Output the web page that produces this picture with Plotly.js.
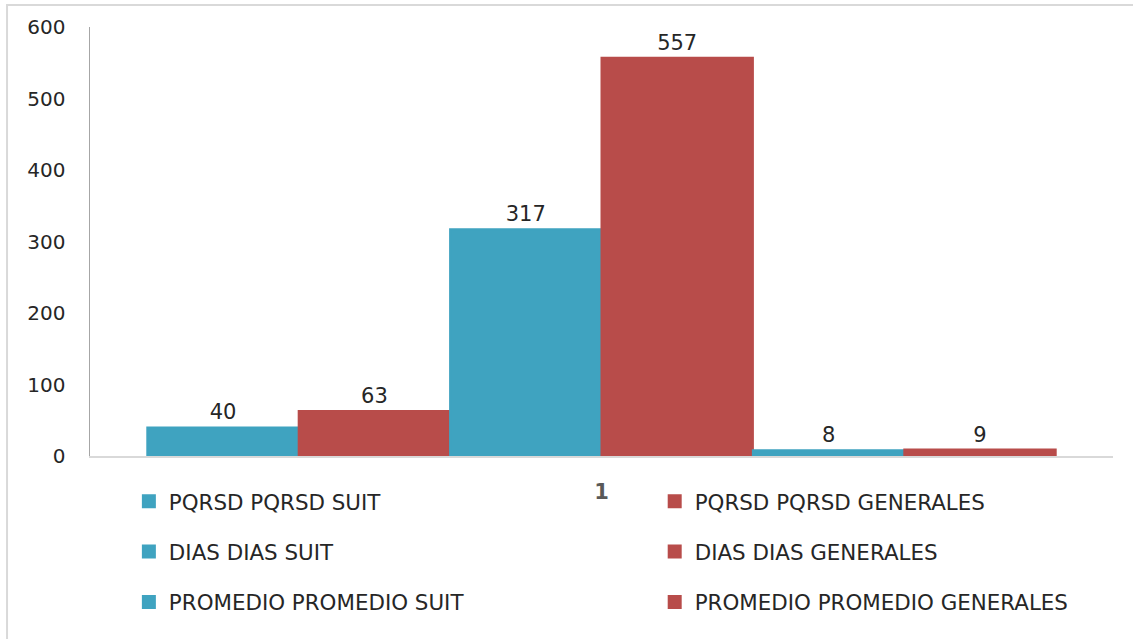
<!DOCTYPE html>
<html>
<head>
<meta charset="utf-8">
<script src="https://cdn.plot.ly/plotly-3.0.1.min.js"></script>
<style>html,body{margin:0;padding:0;background:#fff;}#chart{width:1133px;height:639px;}</style>
</head>
<body>
<div id="chart"></div>
<script>
const categories = ["1"];
const seriesNames = [
  "PQRSD PQRSD SUIT", "PQRSD PQRSD GENERALES",
  "DIAS DIAS SUIT", "DIAS DIAS GENERALES",
  "PROMEDIO PROMEDIO SUIT", "PROMEDIO PROMEDIO GENERALES"
];
const pqrsdSuit = [40];
const pqrsdGenerales = [63];
const diasSuit = [317];
const diasGenerales = [557];
const promedioSuit = [8];
const promedioGenerales = [9];
const yTicks = [0, 100, 200, 300, 400, 500, 600];

const seriesValues = [pqrsdSuit, pqrsdGenerales, diasSuit, diasGenerales, promedioSuit, promedioGenerales];
const teal = "#3FA3C0", red = "#B84C4A";
const FONT = "DejaVu Sans, sans-serif";

const traces = seriesValues.map((vals, i) => {
  const c = i % 2 === 0 ? teal : red;
  return {
    type: "bar",
    name: seriesNames[i],
    x: categories,
    y: vals,
    marker: {color: c, line: {width: 2, color: c}},
    text: vals.map(String),
    textposition: "outside",
    textfont: {family: FONT, size: 21, color: "#262626"},
    cliponaxis: false,
    legend: i % 2 === 0 ? "legend" : "legend2",
    legendgroup: "g" + i,
    hoverinfo: "none"
  };
});

const legendCommon = {
  orientation: "v",
  yanchor: "top",
  xanchor: "left",
  y: -0.058,
  bgcolor: "rgba(0,0,0,0)",
  borderwidth: 0,
  tracegroupgap: 19.5,
  font: {family: FONT, size: 21.4, color: "#262626"},
  itemclick: false
};

const layout = {
  width: 1133,
  height: 639,
  paper_bgcolor: "#fff",
  plot_bgcolor: "#fff",
  margin: {l: 90, r: 20, t: 27, b: 183},
  barmode: "group",
  bargap: 0.112,
  bargroupgap: 0,
  showlegend: true,
  legend: Object.assign({}, legendCommon, {x: 0.038}),
  legend2: Object.assign({}, legendCommon, {x: 0.552}),
  xaxis: {
    type: "category",
    showgrid: false,
    showline: true,
    linecolor: "#d9d9d9",
    linewidth: 1.5,
    ticks: "outside",
    ticklen: 16,
    tickcolor: "rgba(0,0,0,0)",
    tickfont: {family: FONT, size: 21, color: "#595959", weight: "bold"},
    zeroline: false
  },
  yaxis: {
    range: [0, 600],
    tickvals: yTicks,
    ticktext: yTicks.map(String),
    showgrid: false,
    zeroline: false,
    showline: true,
    linecolor: "#a6a6a6",
    linewidth: 1.5,
    ticks: "outside",
    ticklen: 19,
    tickcolor: "rgba(0,0,0,0)",
    tickfont: {family: FONT, size: 20, color: "#262626"}
  },
  shapes: [{
    type: "rect", xref: "paper", yref: "paper",
    x0: -0.0811, x1: 1.1, y0: -0.6, y1: 1.0513,
    line: {color: "#d9d9d9", width: 2},
    fillcolor: "rgba(0,0,0,0)",
    layer: "below"
  }]
};

Plotly.newPlot("chart", traces, layout, {displayModeBar: false, staticPlot: true});
</script>
</body>
</html>
